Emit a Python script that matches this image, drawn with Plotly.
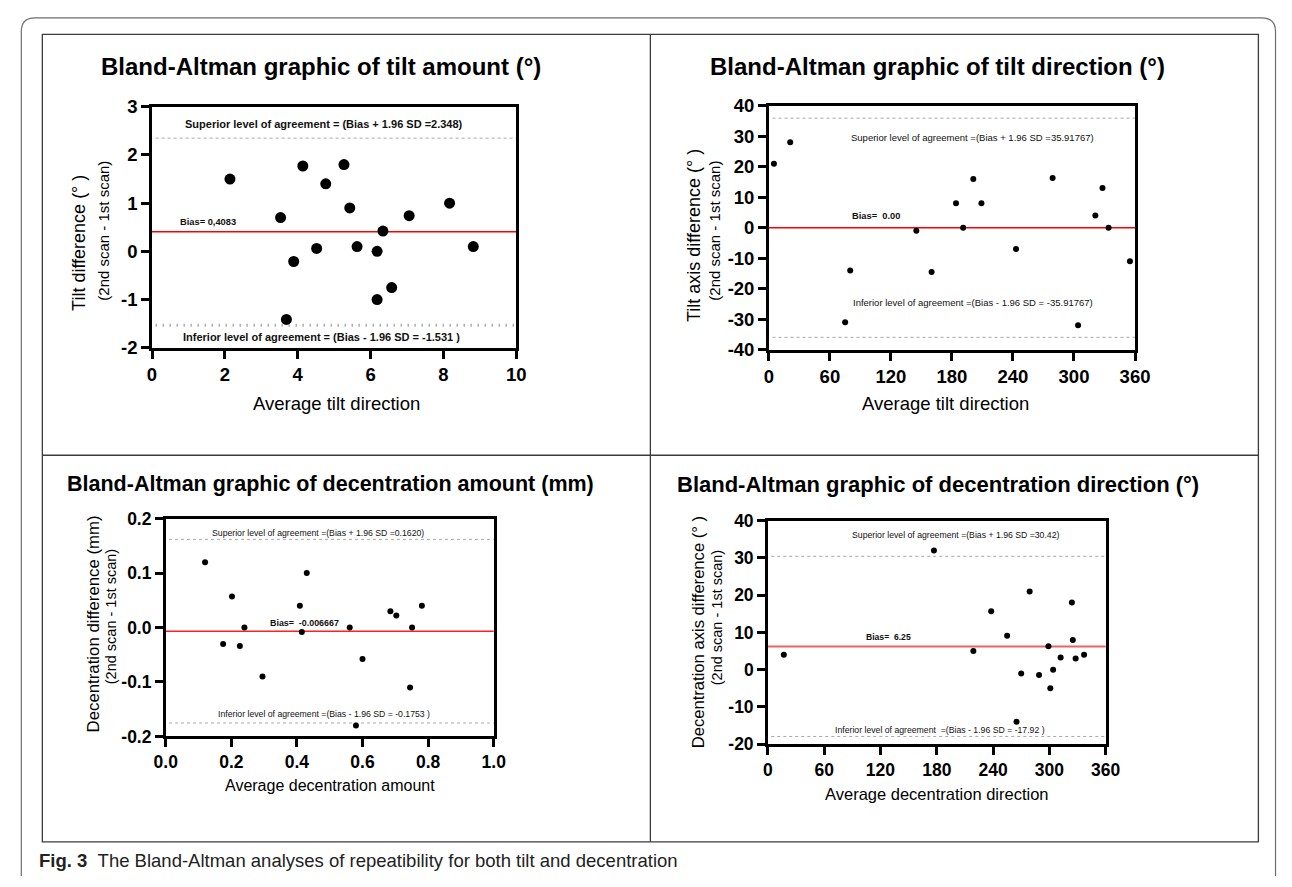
import plotly.graph_objects as go

W, H = 1292, 887
FONT = "Liberation Sans, Arial, Helvetica, sans-serif"

# ---------------- data ----------------
# Panel 1: tilt amount
tilt_amt_mean = [2.14, 3.53, 3.69, 3.89, 4.14, 4.52, 4.77, 5.27, 5.43, 5.63, 6.18, 6.18, 6.34, 6.58, 7.06, 8.17, 8.82]
tilt_amt_diff = [1.50, 0.70, -1.41, -0.21, 1.77, 0.06, 1.40, 1.80, 0.90, 0.10, 0.00, -1.00, 0.42, -0.75, 0.74, 1.00, 0.10]
tilt_amt_bias = 0.4083
tilt_amt_upper = 2.348
tilt_amt_lower = -1.531

# Panel 2: tilt direction
tilt_dir_mean = [5, 21, 75, 80, 145, 160, 184, 191, 201, 209, 243, 279, 304, 321, 328, 334, 355]
tilt_dir_diff = [21, 28, -31, -14, -1, -14.5, 8, 0, 16, 8, -7, 16.3, -32, 4, 13, 0, -11]
tilt_dir_bias = 0.0
tilt_dir_upper = 35.91767
tilt_dir_lower = -35.91767

# Panel 3: decentration amount
dec_amt_mean = [0.120, 0.175, 0.202, 0.226, 0.240, 0.295, 0.409, 0.415, 0.430, 0.561, 0.580, 0.600, 0.685, 0.703, 0.745, 0.751, 0.781]
dec_amt_diff = [0.120, -0.030, 0.057, -0.034, 0.000, -0.090, 0.040, -0.008, 0.100, 0.000, -0.180, -0.058, 0.030, 0.022, -0.110, 0.000, 0.040]
dec_amt_bias = -0.006667
dec_amt_upper = 0.1620
dec_amt_lower = -0.1753

# Panel 4: decentration direction
dec_dir_mean = [17, 177, 219, 238, 255, 265, 270, 279, 289, 299, 301, 304, 312, 324, 325, 328, 337]
dec_dir_diff = [4, 32, 5, 15.7, 9.1, -14, -1, 21, -1.4, 6.3, -5, 0, 3.3, 18, 8, 3, 4]
dec_dir_bias = 6.25
dec_dir_upper = 30.42
dec_dir_lower = -17.92

# tick values / labels
p1_xtick_vals = [0, 2, 4, 6, 8, 10]
p1_xtick_text = ["0", "2", "4", "6", "8", "10"]
p1_ytick_vals = [-2, -1, 0, 1, 2, 3]
p1_ytick_text = ["-2", "-1", "0", "1", "2", "3"]
dir_xtick_vals = [0, 60, 120, 180, 240, 300, 360]
dir_xtick_text = ["0", "60", "120", "180", "240", "300", "360"]
p2_ytick_vals = [-40, -30, -20, -10, 0, 10, 20, 30, 40]
p2_ytick_text = ["-40", "-30", "-20", "-10", "0", "10", "20", "30", "40"]
p3_xtick_vals = [0, 0.2, 0.4, 0.6, 0.8, 1.0]
p3_xtick_text = ["0.0", "0.2", "0.4", "0.6", "0.8", "1.0"]
p3_ytick_vals = [-0.2, -0.1, 0, 0.1, 0.2]
p3_ytick_text = ["-0.2", "-0.1", "0.0", "0.1", "0.2"]
p4_ytick_vals = [-20, -10, 0, 10, 20, 30, 40]
p4_ytick_text = ["-20", "-10", "0", "10", "20", "30", "40"]

# ---------------- layout helpers ----------------
def fx(px):
    return px / W

def fy(py):
    return 1 - py / H

panels = [
    dict(mean=tilt_amt_mean, diff=tilt_amt_diff, bias=tilt_amt_bias, up=tilt_amt_upper, lo=tilt_amt_lower,
         box=(143, 515, 98, 345), xr=[0, 10], yr=[-2, 3],
         xt=(p1_xtick_vals, p1_xtick_text), yt=(p1_ytick_vals, p1_ytick_text),
         msize=11, tsize=18.5, red=dict(color="#ff0000", width=1.5)),
    dict(mean=tilt_dir_mean, diff=tilt_dir_diff, bias=tilt_dir_bias, up=tilt_dir_upper, lo=tilt_dir_lower,
         box=(773, 1147, 97, 347), xr=[0, 360], yr=[-40, 40],
         xt=(dir_xtick_vals, dir_xtick_text), yt=(p2_ytick_vals, p2_ytick_text),
         msize=6, tsize=18.5, red=dict(color="#ff0000", width=1.5)),
    dict(mean=dec_amt_mean, diff=dec_amt_diff, bias=dec_amt_bias, up=dec_amt_upper, lo=dec_amt_lower,
         box=(157, 492, 520, 743), xr=[0, 1], yr=[-0.2, 0.2],
         xt=(p3_xtick_vals, p3_xtick_text), yt=(p3_ytick_vals, p3_ytick_text),
         msize=6, tsize=17.5, red=dict(color="#ff2020", width=1.5)),
    dict(mean=dec_dir_mean, diff=dec_dir_diff, bias=dec_dir_bias, up=dec_dir_upper, lo=dec_dir_lower,
         box=(772, 1117, 522, 751), xr=[0, 360], yr=[-20, 40],
         xt=(dir_xtick_vals, dir_xtick_text), yt=(p4_ytick_vals, p4_ytick_text),
         msize=6, tsize=17.5, red=dict(color="#e86464", width=2)),
]

fig = go.Figure()
layout = dict(
    width=W, height=H, autosize=False,
    margin=dict(l=0, r=0, t=0, b=0, pad=0),
    paper_bgcolor="white", plot_bgcolor="rgba(0,0,0,0)",
    showlegend=False,
    font=dict(family=FONT, color="black"),
)
shapes = []
annotations = []

for i, p in enumerate(panels, start=1):
    sfx = "" if i == 1 else str(i)
    xa, ya = "x" + sfx, "y" + sfx
    x0, x1, y0, y1 = p["box"]
    fig.add_trace(go.Scatter(
        x=p["mean"], y=p["diff"], mode="markers", xaxis=xa, yaxis=ya,
        marker=dict(color="black", size=p["msize"], line=dict(width=0)),
        hoverinfo="skip", cliponaxis=False))
    common = dict(showgrid=False, zeroline=False, showline=True, mirror=True,
                  linecolor="black", linewidth=2.5, ticks="outside", ticklen=8,
                  tickwidth=2.5, tickcolor="black", fixedrange=True,
                  tickfont=dict(family=FONT, size=p["tsize"], color="black", weight="bold"))
    layout["xaxis" + sfx] = dict(common, domain=[fx(x0), fx(x1)], range=p["xr"], anchor=ya,
                                 tickmode="array", tickvals=p["xt"][0], ticktext=p["xt"][1])
    layout["yaxis" + sfx] = dict(common, domain=[fy(y1), fy(y0)], range=p["yr"], anchor=xa,
                                 tickmode="array", tickvals=p["yt"][0], ticktext=p["yt"][1])
    # bias line
    shapes.append(dict(type="line", xref=xa + " domain", yref=ya, x0=0, x1=1,
                       y0=p["bias"], y1=p["bias"], line=p["red"], layer="below"))
    # limits of agreement
    shapes.append(dict(type="line", xref=xa + " domain", yref=ya, x0=0.01, x1=1,
                       y0=p["up"], y1=p["up"], line=dict(color="#a8a8a8", width=1, dash="dot"), layer="below"))
    if i == 1:
        lo_line = dict(color="#8a8a8a", width=3, dash="1px,6px")
    else:
        lo_line = dict(color="#a8a8a8", width=1, dash="dot")
    shapes.append(dict(type="line", xref=xa + " domain", yref=ya, x0=0.01, x1=1,
                       y0=p["lo"], y1=p["lo"], line=lo_line, layer="below"))

# ---------------- text annotations in data coordinates ----------------
def dtext(xa, ya, x, y, text, size, bold=False):
    annotations.append(dict(xref=xa, yref=ya, x=x, y=y, text=text, showarrow=False,
                            xanchor="center", yanchor="middle",
                            font=dict(family=FONT, size=size, color="#111",
                                      weight="bold" if bold else "normal")))

dtext("x", "y", 4.73, 2.64, "Superior level of agreement = (Bias + 1.96 SD =2.348)", 11, True)
dtext("x", "y", 1.53, 0.61, "Bias= 0,4083", 9.3, True)
dtext("x", "y", 4.64, -1.78, "Inferior level of agreement = (Bias - 1.96 SD = -1.531 )", 11, True)

dtext("x2", "y2", 200, 29.7, "Superior level of agreement =(Bias + 1.96 SD =35.91767)", 9.5)
dtext("x2", "y2", 105.6, 4.0, "Bias=  0.00", 9.3, True)
dtext("x2", "y2", 201, -24.5, "Inferior level of agreement =(Bias - 1.96 SD = -35.91767)", 9.5)

dtext("x3", "y3", 0.464, 0.173, "Superior level of agreement =(Bias + 1.96 SD =0.1620)", 8.7)
dtext("x3", "y3", 0.424, 0.008, "Bias=  -0.006667", 8.9, True)
dtext("x3", "y3", 0.482, -0.158, "Inferior level of agreement =(Bias - 1.96 SD = -0.1753 )", 8.7)

dtext("x4", "y4", 200, 36.25, "Superior level of agreement =(Bias + 1.96 SD =30.42)", 8.7)
dtext("x4", "y4", 128.7, 8.9, "Bias=  6.25", 8.6, True)
dtext("x4", "y4", 183.5, -16.1, "Inferior level of agreement  =(Bias - 1.96 SD = -17.92 )", 8.7)

# ---------------- titles and axis titles (paper coordinates) ----------------
def ptext(x, y, text, size, bold=False, angle=0, xanchor="center", color="black"):
    annotations.append(dict(xref="paper", yref="paper", x=fx(x), y=fy(y), text=text,
                            showarrow=False, xanchor=xanchor, yanchor="middle", textangle=angle,
                            font=dict(family=FONT, size=size, color=color,
                                      weight="bold" if bold else "normal")))

ptext(316, 57, "Bland-Altman graphic of tilt amount (°)", 24, True)
ptext(945, 57, "Bland-Altman graphic of tilt direction (°)", 24, True)
ptext(325, 484, "Bland-Altman graphic of decentration amount (mm)", 21.5, True)
ptext(945.5, 485, "Bland-Altman graphic of decentration direction (°)", 22, True)

ptext(331, 402, "Average tilt direction", 18.5)
ptext(953, 402, "Average tilt direction", 18.5)
ptext(325, 793, "Average decentration amount", 16)
ptext(944.7, 802, "Average decentration direction", 16.5)

ptext(69, 238, "Tilt difference (° )", 18, angle=-90)
ptext(94, 225, "(2nd scan - 1st scan)", 15, angle=-90)
ptext(696, 230, "Tilt axis difference (° )", 18, angle=-90)
ptext(718, 225, "(2nd scan - 1st scan)", 15, angle=-90)
ptext(83, 628, "Decentration difference (mm)", 16.8, angle=-90)
ptext(101, 620, "(2nd scan - 1st scan)", 14.5, angle=-90)
ptext(702, 636, "Decentration axis difference (° )", 16.6, angle=-90)
ptext(720, 621, "(2nd scan - 1st scan)", 14.5, angle=-90)

# caption
annotations.append(dict(xref="paper", yref="paper", x=fx(26), y=fy(870), xanchor="left", yanchor="middle",
                        showarrow=False,
                        text="<b>Fig. 3</b>\u00a0\u00a0The Bland-Altman analyses of repeatibility for both tilt and decentration",
                        font=dict(family=FONT, size=18.5, color="#222")))

# ---------------- frame shapes (paper coordinates) ----------------
r = 14
ox0, ox1, oy0, oy1 = 9.5, 1290.5, 7, 886
outer_path = (f"M {fx(ox0)},{fy(oy1)} L {fx(ox0)},{fy(oy0 + r)} "
              f"Q {fx(ox0)},{fy(oy0)} {fx(ox0 + r)},{fy(oy0)} "
              f"L {fx(ox1 - r)},{fy(oy0)} Q {fx(ox1)},{fy(oy0)} {fx(ox1)},{fy(oy0 + r)} "
              f"L {fx(ox1)},{fy(oy1)}")
shapes.append(dict(type="path", xref="paper", yref="paper", path=outer_path,
                   line=dict(color="#6e6e6e", width=1.2), fillcolor="rgba(0,0,0,0)"))
bx0, bx1, by0, by1 = 31, 1273, 24, 851
shapes.append(dict(type="rect", xref="paper", yref="paper", x0=fx(bx0), x1=fx(bx1), y0=fy(by1), y1=fy(by0),
                   line=dict(color="#3c3c3c", width=1.3), fillcolor="rgba(0,0,0,0)"))
shapes.append(dict(type="line", xref="paper", yref="paper", x0=fx(652), x1=fx(652), y0=fy(by1), y1=fy(by0),
                   line=dict(color="#3c3c3c", width=1.3)))
shapes.append(dict(type="line", xref="paper", yref="paper", x0=fx(bx0), x1=fx(bx1), y0=fy(455), y1=fy(455),
                   line=dict(color="#3c3c3c", width=1.3)))

layout["shapes"] = shapes
layout["annotations"] = annotations
fig.update_layout(**layout)

fig.write_html(
    "out.html",
    config={"displayModeBar": False},
    post_script="document.body.style.margin='0';document.body.style.overflow='hidden';",
)
